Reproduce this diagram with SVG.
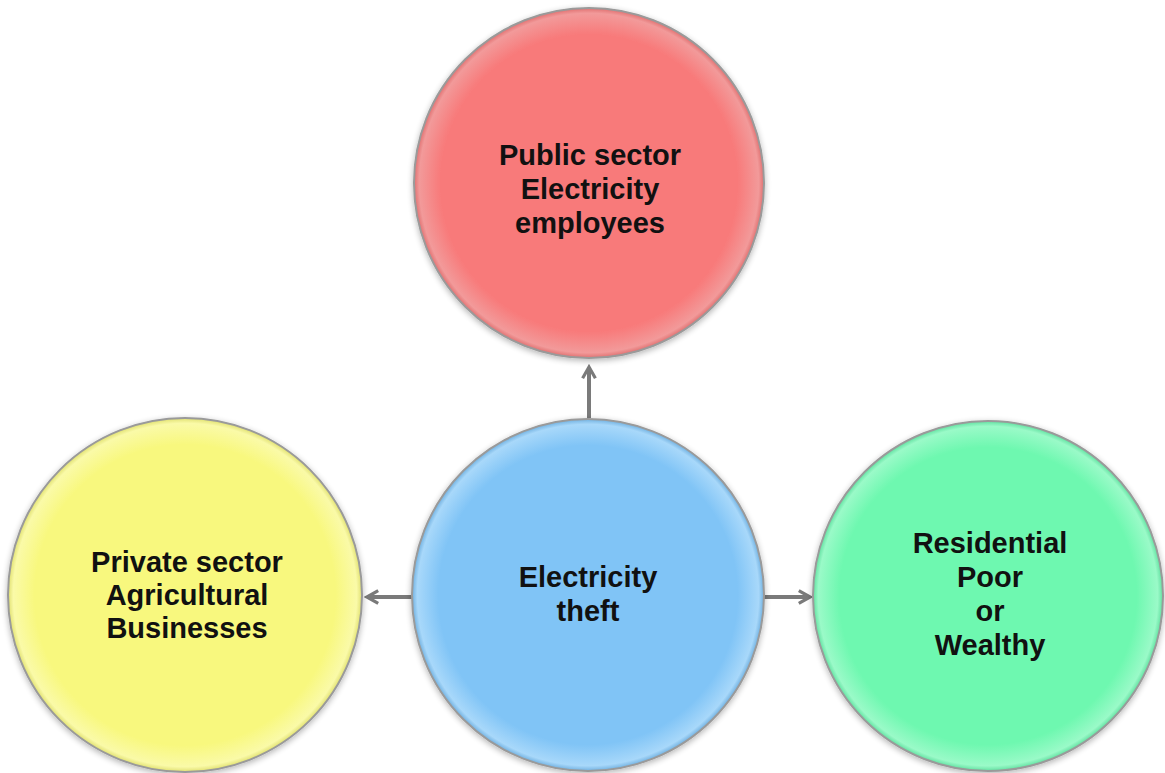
<svg xmlns="http://www.w3.org/2000/svg" width="1165" height="773" viewBox="0 0 1165 773">
<style>
.lbl{font-family:"Liberation Sans",Arial,sans-serif;font-weight:bold;font-size:29px;fill:#111;text-anchor:middle}
.ring{stroke:#9a9a9a;stroke-width:2}
.conn{stroke:#7a7a7a;stroke-width:4;fill:none}
</style>
<defs>
<radialGradient id="gR" cx="50%" cy="50%" r="50%"><stop offset="0.85" stop-color="#f87a7a"/><stop offset="0.97" stop-color="#f29a9a"/><stop offset="1" stop-color="#e07070"/></radialGradient>
<radialGradient id="gB" cx="50%" cy="50%" r="50%"><stop offset="0.85" stop-color="#80c4f6"/><stop offset="0.97" stop-color="#a8d8fa"/><stop offset="1" stop-color="#70b0e0"/></radialGradient>
<radialGradient id="gY" cx="50%" cy="50%" r="50%"><stop offset="0.85" stop-color="#f8f87e"/><stop offset="0.97" stop-color="#fafaa8"/><stop offset="1" stop-color="#e0e070"/></radialGradient>
<radialGradient id="gG" cx="50%" cy="50%" r="50%"><stop offset="0.85" stop-color="#6ef8b0"/><stop offset="0.97" stop-color="#9afac8"/><stop offset="1" stop-color="#60e0a0"/></radialGradient>
<filter id="sh" x="-10%" y="-10%" width="120%" height="120%"><feGaussianBlur in="SourceAlpha" stdDeviation="3"/><feOffset dx="0" dy="2"/><feComponentTransfer><feFuncA type="linear" slope="0.3"/></feComponentTransfer><feMerge><feMergeNode/><feMergeNode in="SourceGraphic"/></feMerge></filter>
<marker id="ah" viewBox="0 0 10 10" refX="8" refY="5" markerWidth="4" markerHeight="4" orient="auto" markerUnits="strokeWidth"><path d="M1,1 L8,5 L1,9" fill="none" stroke="#7a7a7a" stroke-width="2"/></marker>
</defs>
<rect width="1165" height="773" fill="#fff"/>
<g id="connectors">
<line class="conn" x1="589" y1="418" x2="589" y2="367" marker-end="url(#ah)"/>
<line class="conn" x1="412" y1="597" x2="367" y2="597" marker-end="url(#ah)"/>
<line class="conn" x1="764" y1="597" x2="810" y2="597" marker-end="url(#ah)"/>
</g>
<g id="node-public">
<circle class="ring" cx="589" cy="183" r="175" fill="url(#gR)" filter="url(#sh)"/>
<text class="lbl" x="590" y="165">Public sector</text>
<text class="lbl" x="590" y="199">Electricity</text>
<text class="lbl" x="590" y="233">employees</text>
</g>
<g id="node-theft">
<circle class="ring" cx="588" cy="595" r="176" fill="url(#gB)" filter="url(#sh)"/>
<text class="lbl" x="588" y="587">Electricity</text>
<text class="lbl" x="588" y="621">theft</text>
</g>
<g id="node-private">
<circle class="ring" cx="185" cy="595" r="177" fill="url(#gY)" filter="url(#sh)"/>
<text class="lbl" x="187" y="572">Private sector</text>
<text class="lbl" x="187" y="605">Agricultural</text>
<text class="lbl" x="187" y="638">Businesses</text>
</g>
<g id="node-residential">
<circle class="ring" cx="988" cy="596" r="175" fill="url(#gG)" filter="url(#sh)"/>
<text class="lbl" x="990" y="553">Residential</text>
<text class="lbl" x="990" y="587">Poor</text>
<text class="lbl" x="990" y="621">or</text>
<text class="lbl" x="990" y="655">Wealthy</text>
</g>
</svg>
